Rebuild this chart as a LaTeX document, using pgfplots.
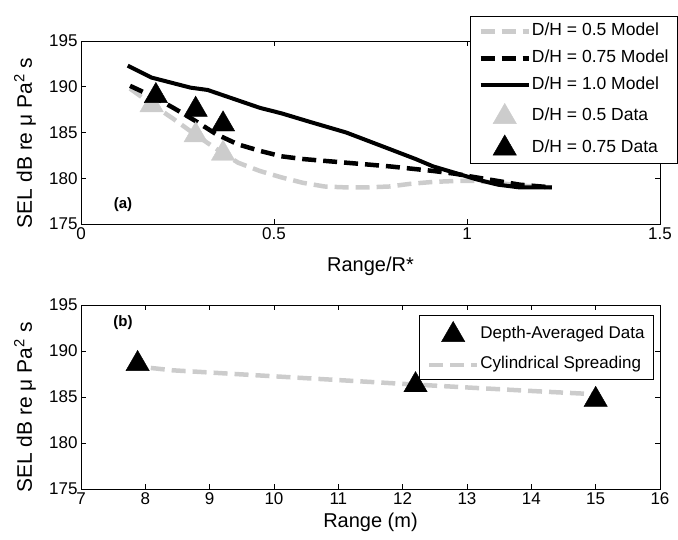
\documentclass[border=0pt]{standalone}
\usepackage{pgfplots}
\pgfplotsset{compat=1.18}
\usepackage{fontspec}
\setmainfont{Liberation Sans}
\definecolor{lgray}{RGB}{204,204,204}

\begin{document}
\begin{tikzpicture}
\pgfplotsset{
  matlab/.style={
    scale only axis, width=579bp,
    tick align=inside, major tick length=5bp,
    axis line style={line width=0.8bp},
    every tick/.style={black,line width=0.8bp},
    /pgf/number format/assume math mode=true,
    ticklabel style={font=\fontsize{17bp}{19bp}\selectfont},
    xlabel style={font=\fontsize{20bp}{24bp}\selectfont, anchor=base},
    ylabel style={font=\fontsize{21bp}{24bp}\selectfont, anchor=center,
      at={(axis description cs:-0.0967,0.443)}},
    ymin=175, ymax=195, ytick={175,180,185,190,195},
    ylabel={SEL dB re μ Pa\textsuperscript{2} s},
    legend cell align=left,
    legend style={draw=black, line width=0.8bp,
      font=\fontsize{17.5bp}{19bp}\selectfont,
      inner xsep=8bp, inner ysep=6bp,
      nodes={inner sep=1bp, text height=12bp, text depth=4bp}},
    legend image code/.code={\draw[mark repeat=2,mark phase=2,##1]
      plot coordinates {(0bp,0bp)(24bp,0bp)(48bp,0bp)};},
  },
  mline/.style={line width=4bp},
  mdash/.style={line width=4.5bp, dash pattern=on 14bp off 7bp},
  tri/.style={only marks, mark=triangle*, mark size=13.5bp, line width=0.4bp},
}

% panel (a)
\begin{axis}[matlab, height=183bp,
    at={(81bp,-224bp)}, anchor=south west,
    xmin=0, xmax=1.5, xtick={0,0.5,1,1.5},
    xlabel={Range/R*},
    xlabel style={at={(axis description cs:0.5,-0.262)}},
    legend style={at={(0.672,1.1366)}, anchor=north west, row sep=9bp},
  ]
  \addplot[mdash, color=lgray] coordinates {
    (0.127,189.8)(0.183,188.1)(0.239,186.5)(0.295,184.8)(0.351,183.2)
    (0.407,181.7)(0.463,180.8)(0.519,180.1)(0.575,179.5)(0.631,179.1)
    (0.687,179.0)(0.743,179.0)(0.799,179.1)(0.855,179.4)(0.912,179.6)
    (0.968,179.7)(1.023,179.7)(1.080,179.5)(1.136,179.2)(1.220,179.0)};
  \addlegendentry{D/H = 0.5 Model}
  \addplot[mdash, color=black] coordinates {
    (0.127,190.1)(0.183,189.0)(0.239,187.7)(0.295,186.3)(0.351,184.8)
    (0.407,183.7)(0.463,183.0)(0.519,182.4)(0.575,182.1)(0.687,181.7)
    (0.799,181.3)(0.912,180.8)(0.968,180.5)(1.023,180.1)(1.080,179.7)
    (1.136,179.3)(1.220,179.0)};
  \addlegendentry{D/H = 0.75 Model}
  \addplot[mline, color=black] coordinates {
    (0.121,192.3)(0.183,191.0)(0.284,189.9)(0.328,189.65)(0.373,189.0)
    (0.463,187.7)(0.519,187.1)(0.598,186.1)(0.687,185.0)(0.743,184.1)
    (0.799,183.2)(0.867,182.1)(0.912,181.3)(0.968,180.6)(1.023,179.9)
    (1.080,179.3)(1.136,179.0)(1.220,179.0)};
  \addlegendentry{D/H = 1.0 Model}
  \addplot[tri, color=lgray, fill=lgray] coordinates {
    (0.183,188.0)(0.297,184.7)(0.368,182.7)};
  \addlegendentry{D/H = 0.5 Data}
  \addplot[tri, color=black, fill=black] coordinates {
    (0.194,189.0)(0.297,187.5)(0.368,185.9)};
  \addlegendentry{D/H = 0.75 Data}
  \node[font=\bfseries\fontsize{15bp}{17bp}\selectfont] at (axis cs:0.109,177.08) {(a)};
\end{axis}

% panel (b)
\begin{axis}[matlab, height=184bp,
    at={(81bp,-489bp)}, anchor=south west,
    xmin=7, xmax=16, xtick={7,8,...,16},
    xlabel={Range (m)},
    xlabel style={at={(axis description cs:0.5,-0.2065)}},
    legend style={at={(0.9896,0.9457)}, anchor=north east, row sep=12bp,
      font=\fontsize{17bp}{19bp}\selectfont},
  ]
  \addplot[tri, color=black, fill=black] coordinates {
    (7.88,188.6)(12.2,186.3)(15.0,184.7)};
  \addlegendentry{Depth-Averaged Data}
  \addplot[mdash, color=lgray] coordinates {
    (7.76,188.4)(8.43,187.9)(10.0,187.25)(11.1,186.8)(12.2,186.35)
    (13.1,186.0)(14.15,185.6)(15.0,185.3)};
  \addlegendentry{Cylindrical Spreading}
  \node[font=\bfseries\fontsize{15bp}{17bp}\selectfont] at (axis cs:7.653,193.04) {(b)};
\end{axis}

\pgfresetboundingbox
\path[use as bounding box] (0bp,0bp) rectangle (678bp,-540bp);
\end{tikzpicture}
\end{document}
